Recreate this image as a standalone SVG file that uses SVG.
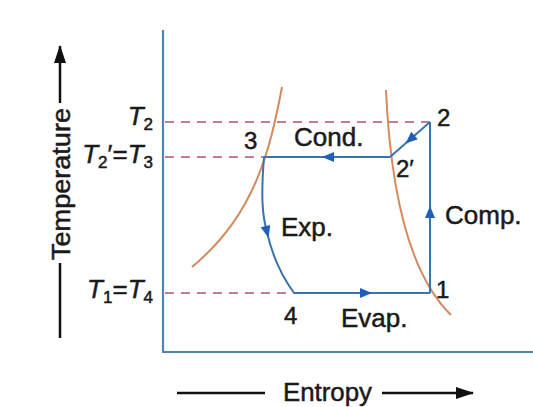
<svg xmlns="http://www.w3.org/2000/svg" width="533" height="407" viewBox="0 0 533 407">
<defs>
<style>
.t{font-family:"Liberation Sans",Arial,sans-serif;fill:#1a1a1a;stroke:#1a1a1a;stroke-width:0.5}
.lab{font-size:26px}
.pt{font-size:24px}
.ti{font-size:26px;font-style:italic}
.sub{font-size:17px;font-style:normal}
.axis{stroke:#4f86b0;stroke-width:2.2;fill:none}
.cyc{stroke:#3a74ad;stroke-width:2;fill:none}
.dash{stroke:#c27d95;stroke-width:2;stroke-dasharray:9,7;fill:none}
.sat{stroke:#d38a5c;stroke-width:2;fill:none}
.blk{stroke:#111;stroke-width:2.5;fill:none}
</style>
<marker id="ah" viewBox="0 0 12 10" refX="6" refY="5" markerWidth="13" markerHeight="10" markerUnits="userSpaceOnUse" orient="auto">
<path d="M0,0 L12,5 L0,10 Z" fill="#1f5fb8"/>
</marker>
<marker id="bh" viewBox="0 0 18 12" refX="17" refY="6" markerWidth="18" markerHeight="12" markerUnits="userSpaceOnUse" orient="auto">
<path d="M0,0 L18,6 L0,12 Z" fill="#111"/>
</marker>
</defs>
<rect width="533" height="407" fill="#fff"/>

<g id="axes">
<path class="axis" d="M163,30 L163,352 L533,352"/>
</g>

<g id="saturation-curves">
<path class="sat" d="M282,87 C270,150 255,215 192,267"/>
<path class="sat" d="M386,90 C390,180 405,270 451,315"/>
</g>

<g id="dashed-levels">
<path class="dash" d="M165,122 L430,122"/>
<path class="dash" d="M165,157 L264,157"/>
<path class="dash" d="M165,293 L294,293"/>
</g>

<g id="connectors">
<path class="cyc" d="M430,293 L430,212 L430,122" marker-mid="url(#ah)"/>
<path class="cyc" d="M430,122 L410,139.5 L390,157" marker-mid="url(#ah)"/>
<path class="cyc" d="M390,157 L328,157 L264,157" marker-mid="url(#ah)"/>
<path class="cyc" d="M264,157 C261,195 262,215 267,232 C272,255 281,275 294,293" marker-mid="url(#ah)"/>
<path class="cyc" d="M294,293 L366,293 L430,293" marker-mid="url(#ah)"/>
</g>

<g id="p1"><text class="t pt" x="436" y="298">1</text></g>
<g id="p2"><text class="t pt" x="437" y="126">2</text></g>
<g id="p2p"><text class="t pt" x="396" y="177">2′</text></g>
<g id="p3"><text class="t pt" x="244" y="149">3</text></g>
<g id="p4"><text class="t pt" x="284" y="324">4</text></g>

<g id="process-labels">
<text class="t lab" x="294" y="146">Cond.</text>
<text class="t lab" x="445" y="224">Comp.</text>
<text class="t lab" x="281" y="236">Exp.</text>
<text class="t lab" x="341" y="327">Evap.</text>
</g>

<g id="temp-labels">
<text class="t ti" x="153" y="125" text-anchor="end">T<tspan class="sub" dy="5">2</tspan></text>
<text class="t ti" x="153" y="163" text-anchor="end">T<tspan class="sub" dy="5">2</tspan><tspan dy="-5" font-style="normal">′=</tspan>T<tspan class="sub" dy="5">3</tspan></text>
<text class="t ti" x="153" y="298" text-anchor="end">T<tspan class="sub" dy="5">1</tspan><tspan dy="-5" font-style="normal">=</tspan>T<tspan class="sub" dy="5">4</tspan></text>
</g>

<g id="y-axis-title">
<path class="blk" d="M60,338 L60,263"/>
<path class="blk" d="M60,103 L60,46" marker-end="url(#bh)"/>
<text class="t lab" transform="translate(70,184) rotate(-90)" text-anchor="middle" textLength="152" lengthAdjust="spacingAndGlyphs">Temperature</text>
</g>

<g id="x-axis-title">
<path class="blk" d="M177,393 L265,393"/>
<path class="blk" d="M382,393 L473,393" marker-end="url(#bh)"/>
<text class="t" font-size="26" x="283" y="401" textLength="89" lengthAdjust="spacingAndGlyphs">Entropy</text>
</g>
</svg>
